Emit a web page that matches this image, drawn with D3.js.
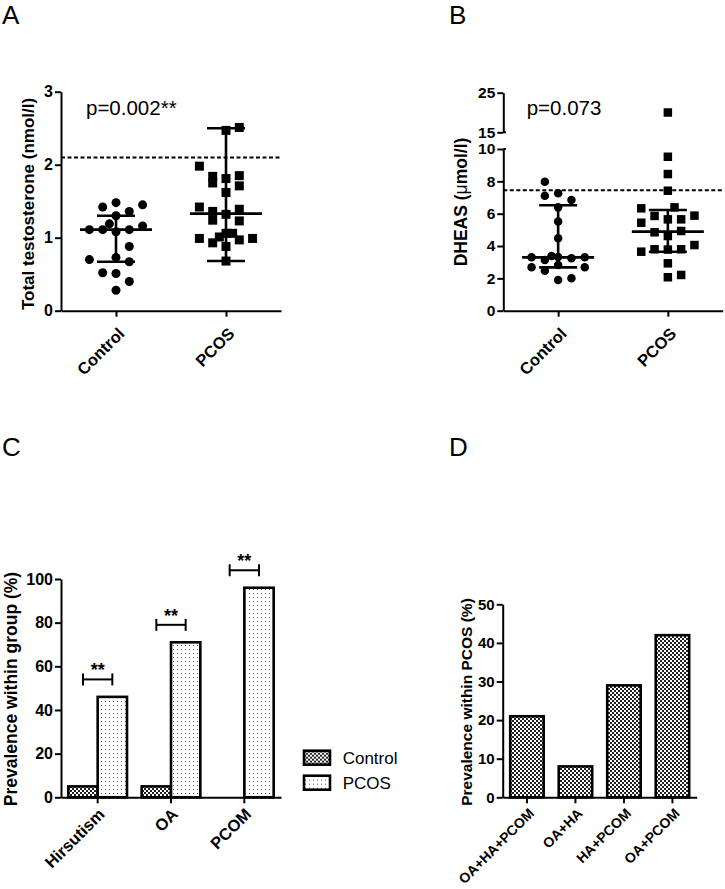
<!DOCTYPE html>
<html>
<head>
<meta charset="utf-8">
<script src="https://cdn.jsdelivr.net/npm/d3@7"></script>
<style>
  body { margin: 0; background: #fff; }
  svg { display: block; font-family: "Liberation Sans", Arial, Helvetica, sans-serif; }
</style>
</head>
<body>
<div id="chart"></div>
<script>
// ---- data ----
const groups = ["Control", "PCOS"];

// A: total testosterone (nmol/l), column = scatter column used by the plot
const controlT = [1.42, 1.48, 1.36, 1.45, 1.30, 1.11, 1.11, 1.19, 1.08, 1.11, 1.16, 0.88, 0.70, 0.73, 0.67, 0.52, 0.51, 0.40, 0.28];
const controlTCol = [-1, 0, 1, 2, 0, -2, -1, -0.5, 0, 1, 2, 1, -2, 0, 1, -1, 0, 1, 0];
const pcosT = [2.47, 2.51, 1.98, 1.84, 1.75, 1.81, 1.85, 1.71, 1.62, 1.42, 1.36, 1.24, 1.32, 1.39, 1.23, 0.99, 0.93, 1.01, 1.06, 1.06, 0.97, 0.99, 0.88, 0.68];
const pcosTCol = [0, 1, -2, -1, -1, 0, 1, 1, 0, -2, -1, -1, 0, 1, 1, -2, -1, -0.5, 0, 0.5, 1, 2, 0, 0];
const summaryT = [{median: 1.11, low: 0.67, high: 1.30}, {median: 1.33, low: 0.68, high: 2.50}];
const cutoffT = 2.1;
const pTextA = "p=0.002**";

// B: DHEAS (umol/l)
const controlD = [7.98, 7.11, 7.26, 6.85, 6.39, 5.51, 4.48, 3.30, 3.14, 3.38, 3.32, 3.24, 3.30, 2.68, 2.47, 2.83, 2.68, 1.90, 2.00];
const controlDCol = [-1, -1, 0, 1, 0, 0, 0, -2, -1, -0.5, 0, 1, 2, -2, -1, 0, 2, 0, 1];
const pcosD = [20.0, 9.52, 8.45, 7.42, 6.33, 6.39, 5.86, 5.65, 5.65, 5.88, 5.44, 4.85, 4.93, 4.62, 3.65, 3.80, 3.78, 3.80, 4.06, 2.93, 2.07, 2.21];
const pcosDCol = [0, 0, 0, 0, -2, 0.5, -1, 0, 1, 2, -2, -1, 1, 0, -2, -1, 0, 1, 2, 0, 0, 1];
const summaryD = [{median: 3.30, low: 2.68, high: 6.52}, {median: 4.89, low: 3.65, high: 6.23}];
const cutoffD = 7.45;
const pTextB = "p=0.073";

// C: prevalence within group (%)
const features = ["Hirsutism", "OA", "PCOM"];
const controlPrev = [5, 5, 0];
const pcosPrev = [46, 71, 96];
const sigMarks = ["**", "**", "**"];

// D: prevalence within PCOS (%)
const combos = ["OA+HA+PCOM", "OA+HA", "HA+PCOM", "OA+PCOM"];
const comboPrev = [21, 8, 29, 42];

// ---- setup ----
const W = 725, H = 889;
const svg = d3.select("#chart").append("svg").attr("width", W).attr("height", H);
svg.append("rect").attr("width", W).attr("height", H).attr("fill", "#fff");

const defs = svg.append("defs");
const checker = defs.append("pattern").attr("id", "checker")
  .attr("patternUnits", "userSpaceOnUse").attr("width", 4).attr("height", 4);
checker.append("rect").attr("width", 4).attr("height", 4).attr("fill", "#fff");
checker.append("rect").attr("width", 2).attr("height", 2).attr("fill", "#222");
checker.append("rect").attr("x", 2).attr("y", 2).attr("width", 2).attr("height", 2).attr("fill", "#222");

const dots = defs.append("pattern").attr("id", "dots")
  .attr("patternUnits", "userSpaceOnUse").attr("width", 4).attr("height", 4);
dots.append("rect").attr("width", 4).attr("height", 4).attr("fill", "#fff");
dots.append("rect").attr("x", 1).attr("y", 1).attr("width", 1).attr("height", 1).attr("fill", "#666");

const fmt = d3.format("d");

function styleAxis(g, fontSize){
  g.select(".domain").attr("stroke", "#000").attr("stroke-width", 2);
  g.selectAll(".tick line").attr("stroke", "#000").attr("stroke-width", 2);
  g.selectAll(".tick text").attr("fill", "#000")
    .style("font-size", fontSize + "px").style("font-weight", "bold")
    .style("font-family", "'Liberation Sans', Arial, sans-serif");
}

function rotatedLabels(g, fontSize, dx, dy){
  g.selectAll(".tick text")
    .attr("x", 0).attr("y", 0).attr("dy", null)
    .attr("transform", `translate(${dx},${dy}) rotate(-45)`)
    .style("text-anchor", "end")
    .style("font-size", fontSize + "px").style("font-weight", "bold");
}

function yLabel(x, y, text, size){
  return svg.append("text")
    .attr("transform", `translate(${x},${y}) rotate(-90)`)
    .attr("text-anchor", "middle")
    .style("font-size", size + "px").style("font-weight", "bold")
    .text(text);
}

function panelLetter(x, y, t){
  svg.append("text").attr("x", x).attr("y", y).style("font-size", "26px").text(t);
}

const colScale = d3.scaleLinear().domain([-1, 1]).range([-13.3, 13.3]);

function scatterGroup(g, x, yFn, vals, cols, shape, size){
  const pts = vals.map((v, i) => ({v: v, c: cols[i]}));
  if (shape === "circle"){
    g.selectAll(null).data(pts).enter().append("circle")
      .attr("cx", d => x + colScale(d.c)).attr("cy", d => yFn(d.v))
      .attr("r", size / 2).attr("fill", "#000");
  } else {
    g.selectAll(null).data(pts).enter().append("rect")
      .attr("x", d => x + colScale(d.c) - size / 2).attr("y", d => yFn(d.v) - size / 2)
      .attr("width", size).attr("height", size).attr("fill", "#000");
  }
}

function errorBars(g, x, yFn, s){
  g.append("line").attr("x1", x).attr("x2", x).attr("y1", yFn(s.low)).attr("y2", yFn(s.high));
  [s.low, s.high].forEach(v => {
    g.append("line").attr("x1", x - 19).attr("x2", x + 19).attr("y1", yFn(v)).attr("y2", yFn(v));
  });
  g.append("line").attr("x1", x - 36).attr("x2", x + 36).attr("y1", yFn(s.median)).attr("y2", yFn(s.median));
  g.selectAll("line").attr("stroke", "#000").attr("stroke-width", 2.6);
}

// ---- Panel A ----
panelLetter(2, 24, "A");
const xA = d3.scalePoint().domain(groups).range([61, 281]).padding(0.5);
const yA = d3.scaleLinear().domain([0, 3]).range([310.7, 91.7]);

svg.append("g").attr("transform", "translate(61,0)")
  .call(d3.axisLeft(yA).tickValues([0, 1, 2, 3]).tickFormat(fmt).tickSize(6).tickSizeOuter(0).tickPadding(2))
  .call(g => styleAxis(g, 16));
svg.append("g").attr("transform", "translate(0,310.7)")
  .call(d3.axisBottom(xA).tickSize(6).tickSizeOuter(0))
  .call(g => styleAxis(g, 16.5))
  .call(g => rotatedLabels(g, 16.5, 9, 24));

svg.append("line").attr("x1", 61).attr("x2", 281).attr("y1", yA(cutoffT)).attr("y2", yA(cutoffT))
  .attr("stroke", "#000").attr("stroke-width", 2).attr("stroke-dasharray", "4,2.5");

const gA = svg.append("g");
scatterGroup(gA, xA("Control"), yA, controlT, controlTCol, "circle", 9);
scatterGroup(gA, xA("PCOS"), yA, pcosT, pcosTCol, "square", 9);
errorBars(svg.append("g"), xA("Control"), yA, summaryT[0]);
errorBars(svg.append("g"), xA("PCOS"), yA, summaryT[1]);

svg.append("text").attr("x", 86).attr("y", 114.5).style("font-size", "20.5px").text(pTextA);
yLabel(34, 204, "Total testosterone (nmol/l)", 17);

// ---- Panel B ----
panelLetter(449, 24, "B");
const xB = d3.scalePoint().domain(groups).range([503.3, 722.7]).padding(0.5);
const yBLow = d3.scaleLinear().domain([0, 10]).range([310.7, 149]);
const yBUp = d3.scaleLinear().domain([15, 25]).range([132.3, 92.7]);
const yB = v => v > 12 ? yBUp(v) : yBLow(v);

svg.append("g").attr("transform", "translate(503.3,0)")
  .call(d3.axisLeft(yBLow).tickValues([0, 2, 4, 6, 8, 10]).tickFormat(fmt).tickSize(6).tickSizeOuter(0).tickPadding(2))
  .call(g => styleAxis(g, 15.5));
svg.append("g").attr("transform", "translate(503.3,0)")
  .call(d3.axisLeft(yBUp).tickValues([15, 25]).tickFormat(fmt).tickSize(6).tickSizeOuter(0).tickPadding(2))
  .call(g => styleAxis(g, 15.5));
// break stubs
[yBUp(15), yBLow(10)].forEach(y => {
  svg.append("line").attr("x1", 503.3).attr("x2", 506).attr("y1", y).attr("y2", y)
    .attr("stroke", "#000").attr("stroke-width", 2);
});
svg.append("g").attr("transform", "translate(0,310.7)")
  .call(d3.axisBottom(xB).tickSize(6).tickSizeOuter(0))
  .call(g => styleAxis(g, 16.5))
  .call(g => rotatedLabels(g, 16.5, 9, 24));

svg.append("line").attr("x1", 503.3).attr("x2", 722.7).attr("y1", yB(cutoffD)).attr("y2", yB(cutoffD))
  .attr("stroke", "#000").attr("stroke-width", 2).attr("stroke-dasharray", "4,2.5");

const gB = svg.append("g");
scatterGroup(gB, xB("Control"), yB, controlD, controlDCol, "circle", 8.5);
scatterGroup(gB, xB("PCOS"), yB, pcosD, pcosDCol, "square", 8.5);
errorBars(svg.append("g"), xB("Control"), yB, summaryD[0]);
errorBars(svg.append("g"), xB("PCOS"), yB, summaryD[1]);

svg.append("text").attr("x", 526.7).attr("y", 115).style("font-size", "20.5px").text(pTextB);
const lbB = svg.append("text")
  .attr("transform", "translate(467,202) rotate(-90)")
  .attr("text-anchor", "middle").style("font-size", "17.5px");
lbB.append("tspan").style("font-weight", "bold").text("DHEAS (");
lbB.append("tspan").text("\u03bc");
lbB.append("tspan").style("font-weight", "bold").text("mol/l)");

// ---- Panel C ----
panelLetter(2, 456, "C");
const xC = d3.scaleBand().domain(features).range([61, 281]).paddingInner(0.2).paddingOuter(0.1);
const xCSub = d3.scaleBand().domain(groups).range([0, xC.bandwidth()]);
const yC = d3.scaleLinear().domain([0, 100]).range([797.3, 579]);

const barsC = [];
features.forEach((f, i) => {
  barsC.push({f: f, g: "Control", v: controlPrev[i]});
  barsC.push({f: f, g: "PCOS", v: pcosPrev[i]});
});
svg.append("g").selectAll("rect").data(barsC.filter(d => d.v > 0)).enter().append("rect")
  .attr("x", d => xC(d.f) + xCSub(d.g))
  .attr("y", d => yC(d.v))
  .attr("width", xCSub.bandwidth())
  .attr("height", d => yC(0) - yC(d.v))
  .attr("fill", d => d.g === "Control" ? "url(#checker)" : "url(#dots)")
  .attr("stroke", "#000").attr("stroke-width", 2.6);

svg.append("g").attr("transform", "translate(61,0)")
  .call(d3.axisLeft(yC).tickValues([0, 20, 40, 60, 80, 100]).tickFormat(fmt).tickSize(6).tickSizeOuter(0).tickPadding(2))
  .call(g => styleAxis(g, 16));
svg.append("g").attr("transform", "translate(0,797.3)")
  .call(d3.axisBottom(xC).tickSize(6).tickSizeOuter(0))
  .call(g => styleAxis(g, 16.5))
  .call(g => rotatedLabels(g, 16.5, 8, 18));

// significance brackets
features.forEach((f, i) => {
  const x1 = xC(f) + xCSub("Control") + xCSub.bandwidth() / 2;
  const x2 = xC(f) + xCSub("PCOS") + xCSub.bandwidth() / 2;
  const y = yC(Math.max(controlPrev[i], pcosPrev[i]) + 8);
  const g = svg.append("g").attr("stroke", "#000").attr("stroke-width", 2);
  g.append("line").attr("x1", x1).attr("x2", x2).attr("y1", y).attr("y2", y);
  g.append("line").attr("x1", x1).attr("x2", x1).attr("y1", y - 6).attr("y2", y + 6);
  g.append("line").attr("x1", x2).attr("x2", x2).attr("y1", y - 6).attr("y2", y + 6);
  svg.append("text").attr("x", (x1 + x2) / 2).attr("y", y - 3)
    .attr("text-anchor", "middle").style("font-size", "18px").style("font-weight", "bold").text(sigMarks[i]);
});

yLabel(17, 689, "Prevalence within group (%)", 17.5);

// legend
const legend = svg.append("g").attr("transform", "translate(304,750.7)");
groups.forEach((gname, i) => {
  legend.append("rect").attr("x", 0).attr("y", i * 25).attr("width", 26).attr("height", 14)
    .attr("fill", gname === "Control" ? "url(#checker)" : "url(#dots)")
    .attr("stroke", "#000").attr("stroke-width", 2.6);
  legend.append("text").attr("x", 38.7).attr("y", i * 25 + 13).style("font-size", "17px").text(gname);
});

// ---- Panel D ----
panelLetter(449, 456, "D");
const xD = d3.scaleBand().domain(combos).range([502.7, 696.7]).paddingInner(0.31).paddingOuter(0.155);
const yD = d3.scaleLinear().domain([0, 50]).range([797.3, 604.3]);

svg.append("g").selectAll("rect").data(combos.map((c, i) => ({c: c, v: comboPrev[i]}))).enter().append("rect")
  .attr("x", d => xD(d.c))
  .attr("y", d => yD(d.v))
  .attr("width", xD.bandwidth())
  .attr("height", d => yD(0) - yD(d.v))
  .attr("fill", "url(#checker)")
  .attr("stroke", "#000").attr("stroke-width", 2.6);

svg.append("g").attr("transform", "translate(502.7,0)")
  .call(d3.axisLeft(yD).tickValues([0, 10, 20, 30, 40, 50]).tickFormat(fmt).tickSize(6).tickSizeOuter(0).tickPadding(2))
  .call(g => styleAxis(g, 15));
svg.append("g").attr("transform", "translate(0,797.3)")
  .call(d3.axisBottom(xD).tickSize(6).tickSizeOuter(0))
  .call(g => styleAxis(g, 14))
  .call(g => rotatedLabels(g, 14, 8, 17));

yLabel(472, 702, "Prevalence within PCOS (%)", 15.5);
</script>
</body>
</html>
